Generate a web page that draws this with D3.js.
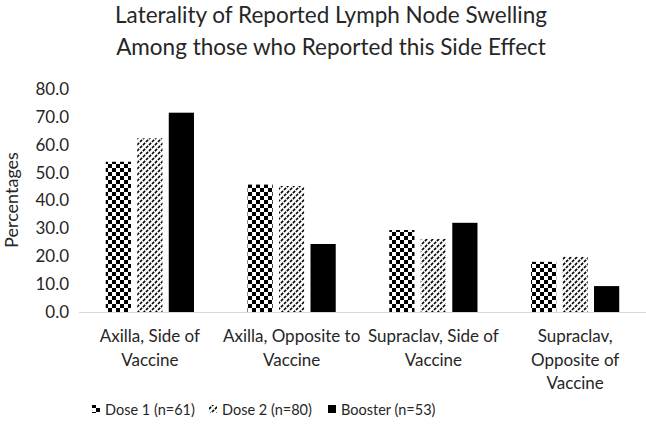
<!DOCTYPE html>
<html><head><meta charset="utf-8">
<script src="https://cdn.jsdelivr.net/npm/d3@7"></script>
<style>body{margin:0;background:#fff}svg{display:block}text{font-family:Lato,"Open Sans",sans-serif;fill:#262626}</style>
</head><body><svg id="c" width="646" height="435"></svg>
<script>
const categories = [["Axilla, Side of","Vaccine"],["Axilla, Opposite to","Vaccine"],["Supraclav, Side of","Vaccine"],["Supraclav,","Opposite of","Vaccine"]];
const seriesNames = ["Dose 1 (n=61)","Dose 2 (n=80)","Booster (n=53)"];
const dose1 = [53.9, 45.7, 29.4, 18.0];
const dose2 = [62.3, 45.2, 26.2, 19.8];
const booster = [71.5, 24.4, 32.0, 9.3];
const yTicks = [0,10,20,30,40,50,60,70,80];
const titleLines = ["Laterality of Reported Lymph Node Swelling","Among those who Reported this Side Effect"];
const yTitle = "Percentages";

const svg = d3.select("#c");
const defs = svg.append("defs");
const chk = defs.append("pattern").attr("id","chk").attr("patternUnits","userSpaceOnUse").attr("width",8).attr("height",8);
chk.append("rect").attr("width",8).attr("height",8).attr("fill","#fff");
chk.append("rect").attr("width",4).attr("height",4).attr("fill","#000");
chk.append("rect").attr("x",4).attr("y",4).attr("width",4).attr("height",4).attr("fill","#000");
const dg = defs.append("pattern").attr("id","dg").attr("patternUnits","userSpaceOnUse").attr("width",6).attr("height",6);
dg.append("rect").attr("width",6).attr("height",6).attr("fill","#fff");
dg.append("path").attr("d","M-1,7 L7,-1 M-4,4 L4,-4 M2,10 L10,2").attr("stroke","#000").attr("stroke-width",1.6).attr("stroke-dasharray","3,1.2");
const fills = ["url(#chk)","url(#dg)","#000"];

const cats = categories.map(c=>c.join(" "));
const x0 = d3.scaleBand().domain(cats).range([79,646]);
const x1 = d3.scaleBand().domain(seriesNames).range([0,x0.bandwidth()]).paddingInner(0.2).paddingOuter(0.85);
const y = d3.scaleLinear().domain([0,80]).range([312,89]);

const data = [dose1,dose2,booster];
const g = svg.append("g");
cats.forEach((c,i)=>{
  seriesNames.forEach((s,j)=>{
    g.append("rect").attr("x",x0(c)+x1(s)).attr("width",x1.bandwidth())
     .attr("y",y(data[j][i])).attr("height",y(0)-y(data[j][i])).attr("fill",fills[j]);
  });
});

// x axis line
svg.append("line").attr("x1",x0.range()[0]).attr("x2",x0.range()[1]).attr("y1",y(0)+0.5).attr("y2",y(0)+0.5).attr("stroke","#d9d9d9").attr("stroke-width",1);

// y axis
const ya = svg.append("g").attr("transform","translate(69,0)")
  .call(d3.axisLeft(y).tickValues(yTicks).tickFormat(d3.format(".1f")).tickSize(0).tickPadding(0));
ya.select(".domain").remove();
ya.selectAll("text").attr("font-size",17).attr("font-family","Lato").attr("fill","#262626");

// x labels
categories.forEach((lines,i)=>{
  const t = svg.append("text").attr("text-anchor","middle").attr("font-size",17);
  lines.forEach((l,k)=>t.append("tspan").attr("x",x0(cats[i])+x0.bandwidth()/2).attr("y",342+k*23.5).text(l));
});

// y title
svg.append("text").attr("transform","translate(18,200) rotate(-90)").attr("text-anchor","middle").attr("font-size",18).text(yTitle);

// title
titleLines.forEach((l,k)=>svg.append("text").attr("x",331).attr("y",23+k*32).attr("text-anchor","middle").attr("font-size",22.5).text(l));

// legend
const legX = [92,209,328];
seriesNames.forEach((s,j)=>{
  svg.append("rect").attr("x",legX[j]).attr("y",405).attr("width",8).attr("height",8).attr("fill",fills[j]);
  svg.append("text").attr("x",legX[j]+13).attr("y",414.5).attr("font-size",14.5).text(s);
});
</script></body></html>
